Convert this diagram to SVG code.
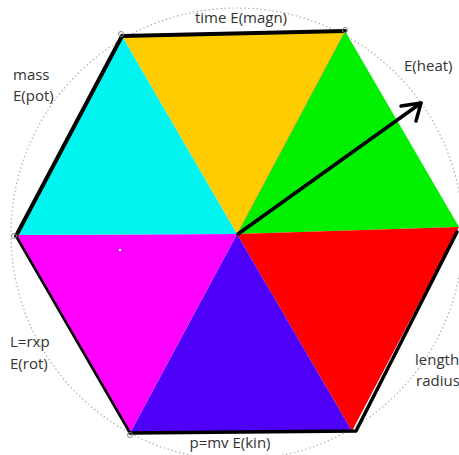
<svg xmlns="http://www.w3.org/2000/svg" width="459" height="455" viewBox="0 0 459 455">
<style>
.lbl{font-family:"Open Sans","Liberation Sans",sans-serif;font-size:15px;fill:#333;}
.edge{stroke:#000;fill:none;stroke-linecap:round;stroke-linejoin:round;}
.mark{fill:none;stroke:#888;stroke-width:1;}
</style>
<rect width="459" height="455" fill="#fff"/>
<circle cx="237" cy="234" r="226" fill="none" stroke="#b0b0b0" stroke-width="1.2" stroke-dasharray="1.5 2.5"/>
<g id="hexagon">
<polygon id="tri-top" points="122,36 345,31 237,234" fill="#FFCC00"/>
<polygon id="tri-topright" points="345,31 459,227 237,234" fill="#00F000"/>
<polygon id="tri-bottomright" points="459,227 352,431 237,234" fill="#FF0000"/>
<polygon id="tri-bottom" points="352,431 130,433 237,234" fill="#4E00F8"/>
<polygon id="tri-bottomleft" points="130,433 15,235 237,234" fill="#FF00FF"/>
<polygon id="tri-topleft" points="15,235 122,36 237,234" fill="#00F5F0"/>
<line x1="345" y1="31" x2="237" y2="234" stroke="#E8A040" stroke-width="0.8"/>
<circle cx="120" cy="250" r="1.3" fill="#fff"/>
</g>
<g id="edges">
<path class="edge" d="M16,236 L122,36 L345,31" stroke-width="4"/>
<path class="edge" d="M16,236 L130,433" stroke-width="2.5"/>
<path class="edge" d="M130,433 L356,431 L457,232" stroke-width="3.5"/>
<circle class="mark" cx="121" cy="34" r="2.5"/>
<circle class="mark" cx="345" cy="30" r="2.5"/>
<circle class="mark" cx="14" cy="236" r="2.5"/>
<circle class="mark" cx="130" cy="435" r="2.5"/>
</g>
<g id="connectors">
<line x1="238" y1="234" x2="421" y2="103" stroke="#000" stroke-width="3.5" stroke-linecap="round"/>
<path d="M401,106 L421,103 L416,121" fill="none" stroke="#000" stroke-width="3.5" stroke-linecap="round" stroke-linejoin="round"/>
</g>
<g id="labels">
<text class="lbl" x="241" y="23" text-anchor="middle">time E(magn)</text>
<text class="lbl" x="13" y="80">mass</text>
<text class="lbl" x="13" y="101">E(pot)</text>
<text class="lbl" x="404" y="71">E(heat)</text>
<text class="lbl" x="10" y="347">L=rxp</text>
<text class="lbl" x="10" y="369">E(rot)</text>
<text class="lbl" x="415" y="365">length</text>
<text class="lbl" x="416" y="386">radius</text>
<text class="lbl" x="230" y="448" text-anchor="middle">p=mv E(kin)</text>
</g>
</svg>
